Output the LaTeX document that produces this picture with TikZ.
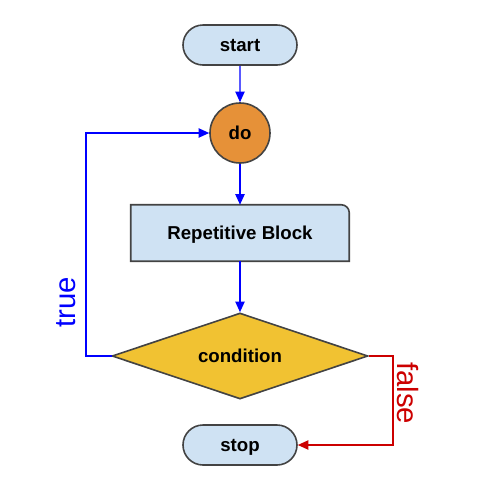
\documentclass[tikz,border=0pt]{standalone}
\usepackage{fontspec}
\setmainfont{Liberation Sans}
\usetikzlibrary{shapes.geometric,shapes.misc,arrows.meta}
\pgfdeclarelayer{bg}
\pgfsetlayers{bg,main}
\definecolor{boxblue}{HTML}{CFE2F3}
\definecolor{doorange}{HTML}{E69138}
\definecolor{condyellow}{HTML}{F1C232}
\definecolor{edge}{HTML}{434343}
\definecolor{arrblue}{HTML}{0000FF}
\definecolor{arrred}{HTML}{CC0000}

\begin{document}
\begin{tikzpicture}[
            x=0.75pt, y=-0.75pt,
            every node/.style={text depth=0pt},
            term/.style={rounded rectangle,draw=edge,fill=boxblue,line width=1.2pt,
                minimum width=85.5pt, minimum height=30pt, inner sep=0pt,
                font=\fontsize{14}{16}\selectfont\bfseries},
            loopnode/.style={circle,draw=edge,fill=doorange,line width=1.2pt,
                minimum size=#1, inner sep=0pt,
                font=\fontsize{14}{16}\selectfont\bfseries},
            loopnode/.default=45pt,
            test/.style={diamond,draw=edge,fill=condyellow,line width=1.2pt,
                aspect=3, minimum width=192pt, minimum height=64.5pt, inner sep=0pt,
                font=\fontsize{14}{16}\selectfont\bfseries},
            flow/.style={draw=arrblue,line width=1.1pt,-{Triangle[length=8pt,width=7pt]}},
            nope/.style={draw=arrred,line width=1.1pt,-{Triangle[length=8pt,width=7pt]}},
            lbl/.style={font=\fontsize{22}{26}\selectfont, inner sep=0pt}
        ]
        \useasboundingbox (0,0) rectangle (480,480);
        \node[term] (start) at (240,45) {start};
        \node[loopnode] (do) at (240,133) {do};
        \node[minimum width=163.5pt, minimum height=42pt, inner sep=0pt,
            font=\fontsize{14}{16}\selectfont\bfseries] (block) at (240,233) {Repetitive Block};
        \node[test] (cond) at (240,356) {condition};
        \node[term] (stop) at (240,445) {stop};
        \begin{pgfonlayer}{bg}
            \draw[draw=edge,fill=boxblue,line width=1.2pt]
                (block.south west) -- (block.north west)
                [rounded corners=6pt] -- (block.north east)
                [sharp corners] -- (block.south east) -- cycle;
        \end{pgfonlayer}
        \draw[flow] (start) -- (do);
        \draw[flow] (do) -- (block);
        \draw[flow] (block) -- (cond);
        \draw[flow,line cap=rect] (cond.west) -- ++(-25,0) |- (do.west);
        \draw[nope] (cond.east) -- ++(24,0) |- (stop.east);
        \node[lbl, text=arrblue, rotate=90] (yes) at (66,302) {true};
        \node[lbl, text=arrred, rotate=-90] (no) at (408,393) {false};
    \end{tikzpicture}
\end{document}
